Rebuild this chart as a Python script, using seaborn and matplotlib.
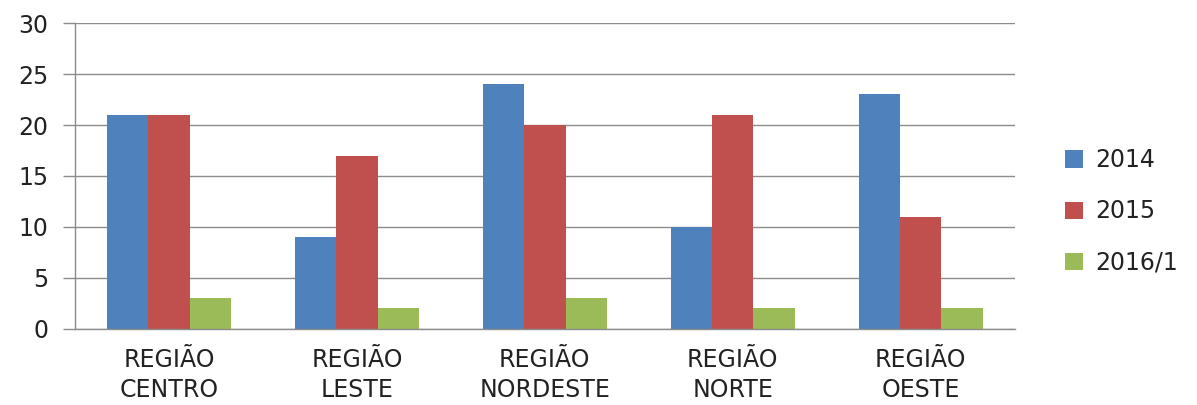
import pandas as pd
import seaborn as sns
import matplotlib.pyplot as plt

# dados do grafico
regioes = ['REGIÃO\nCENTRO', 'REGIÃO\nLESTE', 'REGIÃO\nNORDESTE', 'REGIÃO\nNORTE', 'REGIÃO\nOESTE']
anos = ['2014', '2015', '2016/1']
v2014 = [21, 9, 24, 10, 23]
v2015 = [21, 17, 20, 21, 11]
v2016 = [3, 2, 3, 2, 2]
cores = ['#4F81BD', '#C0504D', '#9BBB59']

df = pd.DataFrame({
    'regiao': regioes * 3,
    'ano': [anos[0]] * 5 + [anos[1]] * 5 + [anos[2]] * 5,
    'valor': v2014 + v2015 + v2016,
})

sns.set_style('white')
plt.rcParams['font.family'] = ['DejaVu Sans']

fig = plt.figure(figsize=(11.97, 4.05), dpi=100)
ax = fig.add_axes([0.0627, 0.188, 0.785, 0.755])

sns.barplot(data=df, x='regiao', y='valor', hue='ano', order=regioes,
            hue_order=anos, palette=cores, width=0.66, saturation=1,
            linewidth=0, ax=ax)

ax.set_ylim(0, 30)
ax.set_yticks(range(0, 31, 5))
ax.set_xlim(-0.5, 4.5)
ax.yaxis.grid(True, color='#8c8c8c', linewidth=1)
ax.set_axisbelow(True)
ax.set_xlabel('')
ax.set_ylabel('')

for s in ['top', 'right']:
    ax.spines[s].set_visible(False)
for s in ['left', 'bottom']:
    ax.spines[s].set_color('#8c8c8c')
    ax.spines[s].set_linewidth(1)

# marcas do eixo x entre as categorias
ax.set_xticks([i + 0.5 for i in range(-1, 5)], minor=True)
ax.tick_params(axis='x', which='major', length=0, pad=14, labelsize=17, colors='#222222')
ax.tick_params(axis='x', which='minor', length=7, color='#8c8c8c', width=1, direction='out')
ax.tick_params(axis='y', length=9, color='#8c8c8c', width=1, direction='out', pad=10,
               labelsize=17, labelcolor='#222222', left=True)
for lab in ax.get_xticklabels():
    lab.set_linespacing(1.3)

leg = ax.legend(loc='center left', bbox_to_anchor=(0.872, 0.478),
                bbox_transform=fig.transFigure, frameon=False,
                fontsize=17, handlelength=0.75, handleheight=0.75, labelspacing=1.15,
                handletextpad=0.55)
for t in leg.get_texts():
    t.set_color('#222222')

fig.savefig('out.png', dpi=100)
